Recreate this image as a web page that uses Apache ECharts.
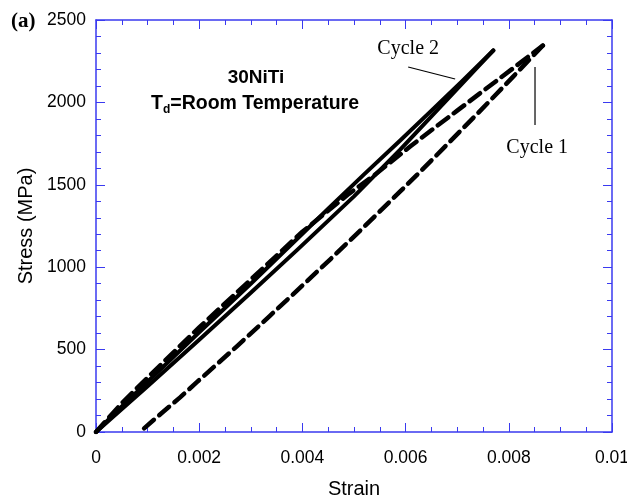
<!DOCTYPE html>
<html>
<head>
<meta charset="utf-8">
<script src="https://cdn.jsdelivr.net/npm/echarts@6/dist/echarts.min.js"></script>
<style>
html,body{margin:0;padding:0;background:#fff;}
#c{width:627px;height:500px;}
</style>
</head>
<body>
<div id="c"></div>
<script>
// ---- data (strain, stress MPa) ----
var cycle1LoadStrain = [0, 0.0005, 0.001, 0.002, 0.003, 0.004, 0.0049, 0.0054, 0.0061, 0.0066, 0.007, 0.00744, 0.00783, 0.00822, 0.00866];
var cycle1LoadStress = [0, 175, 330, 635, 925, 1215, 1445, 1560, 1735, 1855, 1950, 2055, 2147, 2240, 2345];
var cycle1UnloadStrain = [0.00866, 0.00841, 0.00808, 0.00777, 0.00744, 0.00705, 0.0066, 0.00622, 0.00589, 0.00545, 0.00506, 0.00453, 0.0039, 0.00337, 0.00273, 0.00196, 0.00163, 0.00128, 0.00085];
var cycle1UnloadStress = [2345, 2263, 2155, 2054, 1947, 1823, 1679, 1560, 1458, 1323, 1204, 1045, 859, 705, 520, 304, 210, 117, 0];
var cycle2LoadStrain = [0, 0.0005, 0.001, 0.002, 0.003, 0.00376, 0.0045, 0.0052, 0.0059, 0.0065, 0.0071, 0.0077];
var cycle2LoadStress = [0, 155, 305, 605, 900, 1130, 1355, 1565, 1770, 1950, 2130, 2315];
var cycle2UnloadStrain = [0.0077, 0.0071, 0.0065, 0.0059, 0.005, 0.0039, 0.003, 0.002, 0.001, 0.0003, 0];
var cycle2UnloadStress = [2315, 2115, 1915, 1715, 1430, 1105, 845, 560, 278, 83, 0];

var xTicks = [0, 0.002, 0.004, 0.006, 0.008, 0.01];
var yTicks = [0, 500, 1000, 1500, 2000, 2500];

// annotations (data coordinates)
var cycle2Label = {text: 'Cycle 2', at: [0.00605, 2324]};
var cycle2Leader = [[0.00605, 2215], [0.00696, 2142]];
var cycle1Label = {text: 'Cycle 1', at: [0.00855, 1723]};
var cycle1Leader = [[0.008508, 2215], [0.008508, 1863]];

function pairs(xs, ys){ return xs.map(function(x,i){ return [x, ys[i]]; }); }

var BLUE = '#3a3af0';
var SANS = '"Liberation Sans", Arial, Helvetica, sans-serif';
var SERIF = '"Liberation Serif", "Times New Roman", serif';

function xAxisCfg(pos, showLabel){
  return {
    type:'value', position: pos, min: xTicks[0], max: xTicks[xTicks.length-1], interval: 0.002,
    axisLine:{show:true, onZero:false, lineStyle:{color:BLUE, width:1.5}},
    axisTick:{show:true, inside:true, length:9, lineStyle:{color:BLUE, width:1}},
    minorTick:{show:true, splitNumber:4, length:5, lineStyle:{color:BLUE, width:1}},
    splitLine:{show:false}, minorSplitLine:{show:false},
    axisLabel:{show:showLabel, color:'#000', fontSize:17.5, fontFamily:SANS, margin:17,
      formatter:function(v){ return v===0 ? '0' : String(+v.toFixed(4)); }},
    name: showLabel ? 'Strain' : '', nameLocation:'middle', nameGap:47,
    nameTextStyle:{color:'#000', fontSize:20, fontFamily:SANS}
  };
}
function yAxisCfg(pos, showLabel){
  return {
    type:'value', position: pos, min: yTicks[0], max: yTicks[yTicks.length-1], interval: 500,
    axisLine:{show:true, onZero:false, lineStyle:{color:BLUE, width:1.5}},
    axisTick:{show:true, inside:true, length:9, lineStyle:{color:BLUE, width:1}},
    minorTick:{show:true, splitNumber:5, length:5, lineStyle:{color:BLUE, width:1}},
    splitLine:{show:false}, minorSplitLine:{show:false},
    axisLabel:{show:showLabel, color:'#000', fontSize:17.5, fontFamily:SANS, margin:10,
      formatter:function(v){ return String(v); }},
    name: showLabel ? 'Stress (MPa)' : '', nameLocation:'middle', nameGap:60,
    nameTextStyle:{color:'#000', fontSize:20, fontFamily:SANS}
  };
}

var chart = echarts.init(document.getElementById('c'), null, {renderer:'canvas'});
var dashed = {color:'#000', width:4.5, type:[13,7], cap:'round', join:'round'};
var solid = {color:'#000', width:4, type:'solid', cap:'round', join:'round'};
chart.setOption({
  animation:false,
  backgroundColor:'#fff',
  grid:{left:96, right:15, top:20, bottom:68, containLabel:false, outerBoundsMode:'none'},
  xAxis:[xAxisCfg('bottom', true), xAxisCfg('top', false)],
  yAxis:[yAxisCfg('left', true), yAxisCfg('right', false)],
  series:[
    {type:'line', name:'Cycle 2 loading', data:pairs(cycle2LoadStrain, cycle2LoadStress), showSymbol:false, lineStyle:solid, z:3},
    {type:'line', name:'Cycle 2 unloading', data:pairs(cycle2UnloadStrain, cycle2UnloadStress), showSymbol:false, lineStyle:solid, z:3},
    {type:'line', name:'Cycle 1 loading', data:pairs(cycle1LoadStrain, cycle1LoadStress), showSymbol:false, lineStyle:dashed, z:4},
    {type:'line', name:'Cycle 1 unloading', data:pairs(cycle1UnloadStrain, cycle1UnloadStress), showSymbol:false, lineStyle:dashed, z:4}
  ]
});

function px(p){ return chart.convertToPixel({xAxisIndex:0, yAxisIndex:0}, p); }
var c2a = px(cycle2Leader[0]), c2b = px(cycle2Leader[1]);
var c1a = px(cycle1Leader[0]), c1b = px(cycle1Leader[1]);
var c2t = px(cycle2Label.at), c1t = px(cycle1Label.at);

chart.setOption({
  graphic:[
    {type:'text', left:11, top:11, style:{text:'(a)', font:'bold 21px ' + SERIF, fill:'#000'}},
    {type:'text', x:256, y:78, style:{text:'30NiTi', font:'bold 19px ' + SANS, fill:'#000', textAlign:'center', textVerticalAlign:'middle'}},
    {type:'text', x:255, y:104, style:{
      text:'T{sub|d}=Room Temperature', font:'bold 19.5px ' + SANS, fill:'#000', textAlign:'center', textVerticalAlign:'middle',
      rich:{sub:{fontSize:12, fontWeight:'bold', fontFamily:SANS, padding:[12,0,0,0], fill:'#000'}}}},
    {type:'text', x:c2t[0], y:c2t[1], style:{text:cycle2Label.text, font:'20px ' + SERIF, fill:'#000', textAlign:'center', textVerticalAlign:'middle'}},
    {type:'text', x:c1t[0], y:c1t[1], style:{text:cycle1Label.text, font:'20px ' + SERIF, fill:'#000', textAlign:'center', textVerticalAlign:'middle'}},
    {type:'line', shape:{x1:c2a[0], y1:c2a[1], x2:c2b[0], y2:c2b[1]}, style:{stroke:'#000', lineWidth:1.2}},
    {type:'line', shape:{x1:c1a[0], y1:c1a[1], x2:c1b[0], y2:c1b[1]}, style:{stroke:'#000', lineWidth:1.2}}
  ]
});
</script>
</body>
</html>
